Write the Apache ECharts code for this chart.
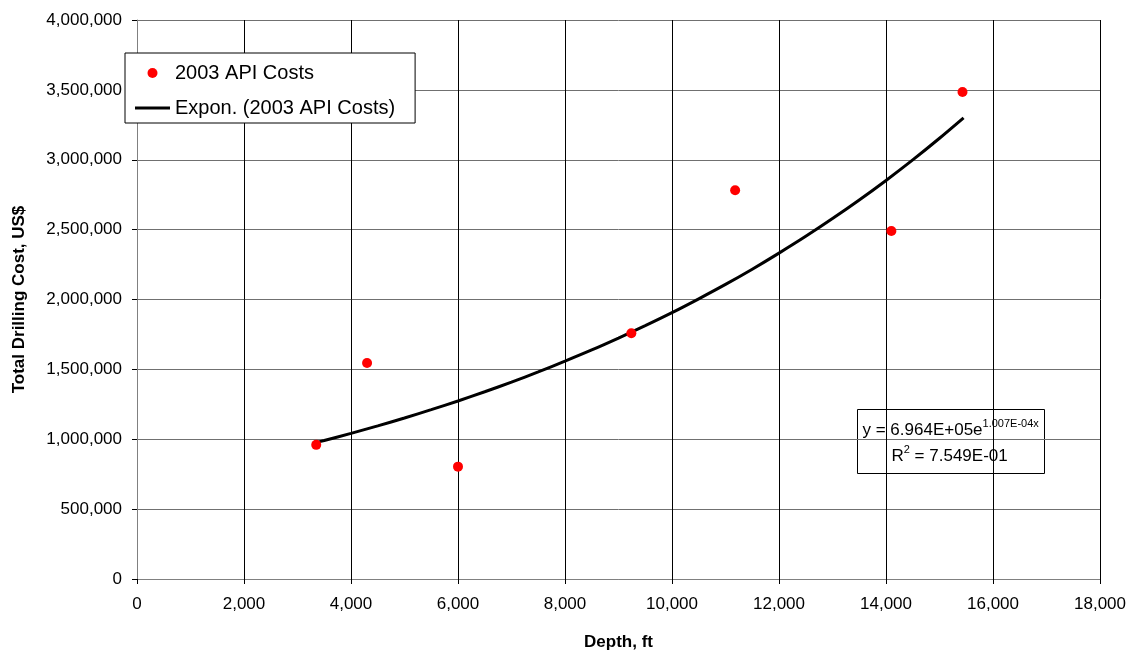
<!DOCTYPE html>
<html>
<head>
<meta charset="utf-8">
<script src="https://cdn.jsdelivr.net/npm/echarts@6/dist/echarts.min.js"></script>
<style>
  html, body { margin: 0; padding: 0; background: #fff; }
  #chart { width: 1132px; height: 656px; }
</style>
</head>
<body>
<div id="chart"></div>
<script>
// 2003 API costs
const depths = [3350, 4300, 6000, 9240, 11180, 14100, 15430]
const costs = [960000, 1545000, 804000, 1758000, 2782000, 2490000, 3485000]

// exponential trend line
const trendDepths = [3350, 3500, 4000, 4500, 5000, 5500, 6000, 6500, 7000, 7500, 8000, 8500, 9000, 9500,
  10000, 10500, 11000, 11500, 12000, 12500, 13000, 13500, 14000, 14500, 15000, 15450]
const trendCosts = [976000, 991000, 1042000, 1096000, 1152000, 1212000, 1274000, 1340000, 1409000, 1482000,
  1559000, 1639000, 1724000, 1813000, 1906000, 2005000, 2108000, 2217000, 2332000, 2452000, 2579000,
  2712000, 2852000, 2999000, 3154000, 3300000]

const xTicks = { min: 0, max: 18000, interval: 2000 }
const yTicks = { min: 0, max: 4000000, interval: 500000 }

const font = 'Liberation Sans, Arial, sans-serif'

function fmt (v) {
  return v.toLocaleString('en-US')
}

const chart = echarts.init(document.getElementById('chart'))

const supStyle = { fontSize: 11, fontFamily: font, fill: '#000', verticalAlign: 'top', padding: [0, 0, 9, 0] }
const eqStyle = { fontSize: 17, fontFamily: font, fill: '#000', verticalAlign: 'bottom' }

const option = {
  animation: false,
  textStyle: { fontFamily: font },
  grid: { left: 137, right: 32, top: 20, bottom: 74, containLabel: false },
  xAxis: {
    type: 'value',
    min: xTicks.min,
    max: xTicks.max,
    interval: xTicks.interval,
    name: 'Depth, ft',
    nameLocation: 'middle',
    nameGap: 55,
    nameTextStyle: { fontSize: 17, fontWeight: 'bold', color: '#000', fontFamily: font },
    axisLine: { show: true, lineStyle: { color: '#808080', width: 1 } },
    axisTick: { show: true, length: 5, lineStyle: { color: '#000' } },
    axisLabel: { fontSize: 17, color: '#000', margin: 17, formatter: fmt },
    splitLine: { show: true, lineStyle: { color: '#000', width: 1 } }
  },
  yAxis: {
    type: 'value',
    min: yTicks.min,
    max: yTicks.max,
    interval: yTicks.interval,
    name: 'Total Drilling Cost, US$',
    nameLocation: 'middle',
    nameGap: 109,
    nameTextStyle: { fontSize: 17, fontWeight: 'bold', color: '#000', fontFamily: font },
    axisLine: { show: true, lineStyle: { color: '#808080', width: 1 } },
    axisTick: { show: true, length: 5, lineStyle: { color: '#000' } },
    axisLabel: { fontSize: 17, color: '#000', margin: 15, formatter: fmt },
    splitLine: { show: true, lineStyle: { color: '#707070', width: 1 } }
  },
  legend: {
    orient: 'vertical',
    left: 125,
    top: 53,
    padding: [10, 20, 5, 10],
    itemGap: 15,
    itemWidth: 35,
    itemHeight: 10,
    backgroundColor: '#fff',
    borderColor: '#000',
    borderWidth: 1,
    textStyle: { fontSize: 20, color: '#000', fontFamily: font },
    data: [
      { name: '2003 API Costs', icon: 'circle' },
      { name: 'Expon. (2003 API Costs)', icon: 'path://M0,0L35,0L35,3L0,3Z' }
    ]
  },
  graphic: [{
    type: 'group',
    left: 857,
    top: 409,
    children: [{
      type: 'rect',
      shape: { x: 0, y: 0, width: 187, height: 64 },
      style: { fill: '#fff', stroke: '#000', lineWidth: 1 }
    }, {
      type: 'text',
      x: 5,
      y: 9,
      style: {
        text: '{n|y = 6.964E+05e}{s|1.007E-04x}',
        rich: { n: eqStyle, s: supStyle }
      }
    }, {
      type: 'text',
      x: 34,
      y: 35,
      style: {
        text: '{n|R}{s|2}{n| = 7.549E-01}',
        rich: { n: eqStyle, s: supStyle }
      }
    }]
  }],
  series: [{
    name: 'Expon. (2003 API Costs)',
    type: 'line',
    data: trendDepths.map((d, i) => [d, trendCosts[i]]),
    symbol: 'none',
    smooth: 0.3,
    lineStyle: { color: '#000', width: 3 },
    itemStyle: { color: '#000' },
    z: 2
  }, {
    name: '2003 API Costs',
    type: 'scatter',
    data: depths.map((d, i) => [d, costs[i]]),
    symbol: 'circle',
    symbolSize: 10,
    itemStyle: { color: '#ff0000', opacity: 1 },
    z: 3
  }]
}

chart.setOption(option)
</script>
</body>
</html>
